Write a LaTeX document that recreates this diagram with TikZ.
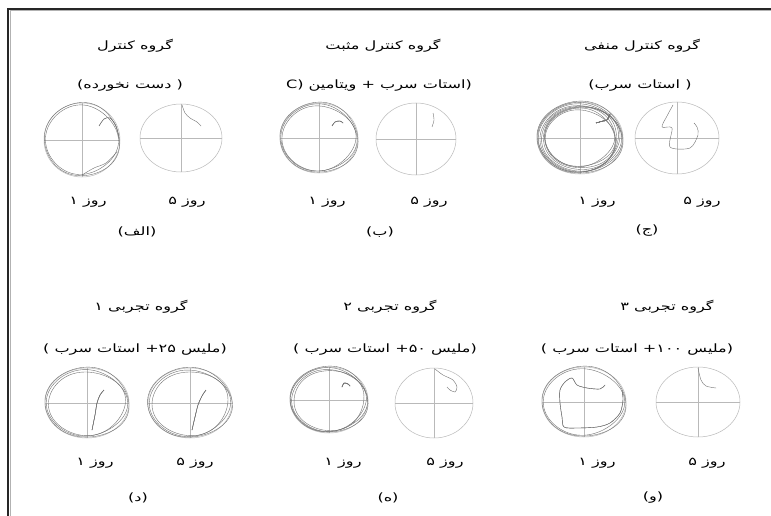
\documentclass[tikz,border=0pt]{standalone}
\usepackage{fontspec}
\newfontfamily\fa[Script=Arabic, FakeStretch=1.4]{DejaVu Sans}
\TeXXeTstate=1

\tikzset{
  pool/.style={gray!55, line width=0.5pt},
  swim/.style={gray!90!black, line width=0.4pt},
  lbl/.style={font=\fa\fontsize{11.5}{13}\selectfont, inner sep=0pt}
}
% pool: centre x, centre y, x radius, y radius
\newcommand{\tank}[4]{
  \draw[pool] (#1,#2) ellipse ({#3} and {#4});
  \draw[pool] (#1-#3,#2) -- (#1+#3,#2);
  \draw[pool] (#1,#2-#4) -- (#1,#2+#4);
}
% one lap round the wall: centre, radii, scale, phase
\newcommand{\lap}[6]{
  \draw[swim, smooth cycle, domain=0:350, samples=36, variable=\t]
    plot ({#1+#5*#3*cos(\t)+0.9*sin(3*\t+#6)},{#2+#5*#4*sin(\t)+0.9*cos(2*\t+#6)});
}

\begin{document}
\begin{tikzpicture}[x=1pt,y=-1pt]
    \useasboundingbox (0,0) rectangle (771,516);
    \fill[white] (0,0) rectangle (771,516);
    \draw[line width=1.3pt, gray!30!black] (8,516) -- (8,9) -- (771,9);
    \draw[line width=0.6pt, gray!60] (9.8,516) -- (9.8,10.8) -- (771,10.8);

    % top row
    \node[lbl] (t1) at (135,46) {\beginR گروه کنترل\endR};
    \node[lbl] (t2) at (383,46) {\beginR گروه کنترل مثبت\endR};
    \node[lbl] (t3) at (642,46) {\beginR گروه کنترل منفی\endR};
    \node[lbl] (s1) at (130,86) {\beginR ( دست نخورده)\endR};
    \node[lbl] (s2) at (379,86) {\beginR (استات سرب + ویتامین C)\endR};
    \node[lbl] (s3) at (640,86) {\beginR ( استات سرب)\endR};

    \tank{82}{140}{38}{37}
    \tank{181}{138}{41}{34}
    \tank{319}{138}{39}{35}
    \tank{416}{139}{40}{36}
    \tank{580}{138}{43}{36}
    \tank{677}{138}{42}{36}

    \foreach \k/\p in {0.99/0,0.94/70} \lap{82}{140}{38}{37}{\k}{\p}
    \draw[swim] plot[smooth] coordinates {(99,126) (104,119) (110,118) (116,126) (119,138)};
    \draw[swim] plot[smooth] coordinates {(82,175) (94,168) (106,163) (117,152)};
    \draw[swim] plot[smooth] coordinates {(182,105) (185,113) (190,118) (197,122) (201,126)};

    \foreach \k/\p in {1.0/0,0.96/50,0.93/120} \lap{319}{138}{39}{35}{\k}{\p}
    \draw[swim] plot[smooth] coordinates {(332,126) (335,122) (340,121) (343,123)};
    \draw[swim] plot[smooth] coordinates {(433,113) (434,120) (432,127)};

    \foreach \k/\p in {1.0/0,0.97/40,0.95/90,0.92/150,0.9/200,0.87/260,0.84/310,0.81/20,0.79/110}
        \lap{580}{138}{43}{36}{\k}{\p}
    \draw[swim] plot[smooth] coordinates {(596,123) (603,121) (607,120) (610,114)};
    \draw[swim] plot[smooth] coordinates {(673,105) (667,116) (662,127) (672,128) (670,147) (690,148) (698,135) (697,127) (694,123)};

    \node[lbl] (d1) at (88,202) {\beginR روز ۱\endR};
    \node[lbl] (d2) at (187,202) {\beginR روز ۵\endR};
    \node[lbl] (d3) at (327,202) {\beginR روز ۱\endR};
    \node[lbl] (d4) at (429,202) {\beginR روز ۵\endR};
    \node[lbl] (d5) at (597,202) {\beginR روز ۱\endR};
    \node[lbl] (d6) at (702,202) {\beginR روز ۵\endR};
    \node[lbl] (c1) at (137,232) {(الف)};
    \node[lbl] (c2) at (380,232) {(ب)};
    \node[lbl] (c3) at (647,231) {(ج)};

    % bottom row
    \node[lbl] (t4) at (141,307) {\beginR گروه تجربی ۱\endR};
    \node[lbl] (t5) at (390,307) {\beginR گروه تجربی ۲\endR};
    \node[lbl] (t6) at (667,307) {\beginR گروه تجربی ۳\endR};
    \node[lbl] (s4) at (135,350) {\beginR (ملیس ۲۵+ استات سرب )\endR};
    \node[lbl] (s5) at (385,350) {\beginR (ملیس ۵۰+ استات سرب )\endR};
    \node[lbl] (s6) at (637,350) {\beginR (ملیس ۱۰۰+ استات سرب )\endR};

    \tank{87}{403}{42}{35}
    \tank{190}{403}{42}{35}
    \tank{329}{400}{39}{33}
    \tank{434}{403}{39}{35}
    \tank{584}{402}{42}{35}
    \tank{698}{402}{42}{35}

    \foreach \k/\p in {1.0/0,0.95/80,0.91/160} \lap{87}{403}{42}{35}{\k}{\p}
    \draw[swim] plot[smooth] coordinates {(104,390) (100,395) (97,403) (95,415) (92,430)};
    \foreach \k/\p in {1.0/30,0.95/110,0.91/200} \lap{190}{403}{42}{35}{\k}{\p}
    \draw[swim] plot[smooth] coordinates {(206,390) (202,396) (198,405) (195,417) (192,430)};

    \foreach \k/\p in {1.0/0,0.97/60,0.94/130,0.91/220} \lap{329}{400}{39}{33}{\k}{\p}
    \draw[swim] plot[smooth] coordinates {(342,387) (344,383) (348,384) (350,386)};
    \draw[swim] plot[smooth] coordinates {(435,369) (443,375) (453,380) (457,387) (455,392) (450,390) (447,387)};

    \foreach \k/\p in {1.0/0,0.95/90} \lap{584}{402}{42}{35}{\k}{\p}
    \draw[swim] plot[smooth] coordinates {(605,385) (600,389) (587,388) (577,385) (572,378) (565,382) (560,390) (560,403) (562,417) (564,427) (577,428) (597,427) (610,423) (620,413) (623,400) (622,391)};
    \draw[swim] plot[smooth] coordinates {(698,368) (701,380) (706,386) (716,388)};

    \node[lbl] (d7) at (95,463) {\beginR روز ۱\endR};
    \node[lbl] (d8) at (195,463) {\beginR روز ۵\endR};
    \node[lbl] (d9) at (343,463) {\beginR روز ۱\endR};
    \node[lbl] (d10) at (445,463) {\beginR روز ۵\endR};
    \node[lbl] (d11) at (597,463) {\beginR روز ۱\endR};
    \node[lbl] (d12) at (707,463) {\beginR روز ۵\endR};
    \node[lbl] (c4) at (138,498) {(د)};
    \node[lbl] (c5) at (388,498) {(ه)};
    \node[lbl] (c6) at (653,498) {(و)};
\end{tikzpicture}
\end{document}
